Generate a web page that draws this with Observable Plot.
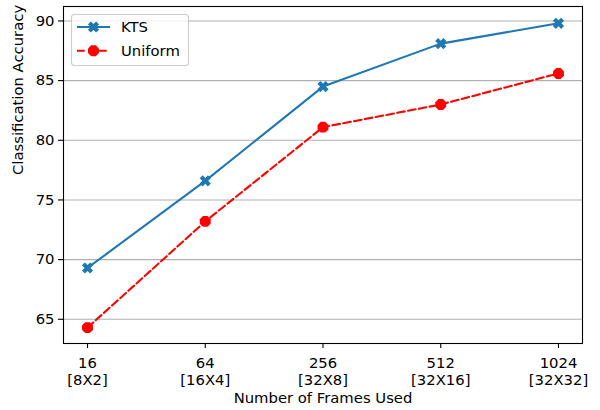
<!DOCTYPE html>
<html>
<head>
<meta charset="utf-8">
<script src="https://cdn.jsdelivr.net/npm/d3@7"></script>
<script src="https://cdn.jsdelivr.net/npm/@observablehq/plot@0.6"></script>
<style>
  html, body { margin: 0; padding: 0; background: #fff; }
  #wrap { position: relative; width: 600px; height: 410px; font-family: "DejaVu Sans", sans-serif; }
  #legend { position: absolute; left: 0; top: 0; }
</style>
</head>
<body>
<div id="wrap"></div>
<script>
const frames = ["16", "64", "256", "512", "1024"];
const grids = ["[8X2]", "[16X4]", "[32X8]", "[32X16]", "[32X32]"];
const kts = [69.3, 76.6, 84.5, 88.1, 89.8];
const uniform = [64.3, 73.2, 81.1, 83.0, 85.6];
const yTicks = [65, 70, 75, 80, 85, 90];
const seriesNames = ["KTS", "Uniform"];

const blue = "#1f77b4", red = "#ff0000";
const FONT = "DejaVu Sans";
const FS = 14.8;

// custom filled-X and octagon symbols
const xFilled = {
  draw(ctx, size) {
    const r = Math.sqrt(size / Math.PI);
    const w = 0.36 * r, L = r;
    const pts = [[w,L],[w,w],[L,w],[L,-w],[w,-w],[w,-L],[-w,-L],[-w,-w],[-L,-w],[-L,w],[-w,w],[-w,L]];
    const c = Math.SQRT1_2;
    pts.forEach(([x,y], i) => {
      const px = (x - y) * c, py = (x + y) * c;
      i ? ctx.lineTo(px, py) : ctx.moveTo(px, py);
    });
    ctx.closePath();
  }
};
const octagon = {
  draw(ctx, size) {
    const r = Math.sqrt(size / Math.PI);
    for (let i = 0; i < 8; i++) {
      const a = Math.PI / 8 + i * Math.PI / 4;
      const px = r * Math.cos(a), py = r * Math.sin(a);
      i ? ctx.lineTo(px, py) : ctx.moveTo(px, py);
    }
    ctx.closePath();
  }
};
const RX = 5.8, RO = 5.9;

const data = [];
frames.forEach((f, i) => {
  data.push({i, series: "KTS", value: kts[i]});
  data.push({i, series: "Uniform", value: uniform[i]});
});
const ktsData = data.filter(d => d.series === "KTS");
const uniData = data.filter(d => d.series === "Uniform");
const idx = frames.map((_, i) => i);

const chart = Plot.plot({
  width: 600,
  height: 410,
  marginLeft: 63,
  marginRight: 18,
  marginTop: 6,
  marginBottom: 67,
  style: { fontFamily: FONT, fontSize: FS + "px", color: "#000", background: "white", overflow: "visible" },
  x: { type: "linear", domain: [-0.204, 4.204] },
  y: { domain: [62.97, 91.21] },
  marks: [
    Plot.gridY(yTicks, { stroke: "#b0b0b0", strokeOpacity: 1, strokeWidth: 1.1 }),
    Plot.axisY(yTicks, { tickSize: 5, tickPadding: 4, label: null, fontSize: FS, stroke: "#000", strokeWidth: 1.1 }),
    Plot.axisX(idx, { tickSize: 5, tickPadding: 7, label: null, fontSize: FS, lineHeight: 1.16,
      tickFormat: i => frames[i] + "\n" + grids[i], stroke: "#000", strokeWidth: 1.1 }),
    Plot.text(["Classification Accuracy"], { frameAnchor: "left", rotate: -90, dx: -45, fontSize: FS, fill: "#000" }),
    Plot.text(["Number of Frames Used"], { frameAnchor: "bottom", lineAnchor: "middle", dy: 55, fontSize: FS, fill: "#000" }),
    Plot.line(ktsData, { x: "i", y: "value", stroke: blue, strokeWidth: 2.08 }),
    Plot.line(uniData, { x: "i", y: "value", stroke: red, strokeWidth: 2.08, strokeDasharray: "7.7,3.3" }),
    Plot.dot(ktsData, { x: "i", y: "value", symbol: () => xFilled, fill: blue, r: RX, stroke: "none" }),
    Plot.dot(uniData, { x: "i", y: "value", symbol: () => octagon, fill: red, r: RO, stroke: "none" }),
    Plot.frame({ stroke: "#000", strokeWidth: 1.1 })
  ]
});

const wrap = document.getElementById("wrap");
wrap.appendChild(chart);

// legend overlay
const leg = d3.select(wrap).append("svg").attr("id", "legend")
  .attr("width", 600).attr("height", 410)
  .style("font-family", FONT).style("font-size", FS + "px");
leg.append("rect").attr("x", 71.5).attr("y", 14.5).attr("width", 117).attr("height", 51)
  .attr("rx", 3).attr("fill", "rgba(255,255,255,0.8)").attr("stroke", "#cccccc").attr("stroke-width", 1.1);
const entries = [
  { name: seriesNames[0], color: blue, dash: null, sym: xFilled, r: RX, y: 27 },
  { name: seriesNames[1], color: red, dash: "7.7,3.3", sym: octagon, r: RO, y: 50.7 }
];
entries.forEach(e => {
  const l = leg.append("line").attr("x1", 77).attr("x2", 110).attr("y1", e.y).attr("y2", e.y)
    .attr("stroke", e.color).attr("stroke-width", 2.08);
  if (e.dash) l.attr("stroke-dasharray", e.dash);
  leg.append("path").attr("d", d3.symbol(e.sym, Math.PI * e.r * e.r)()).attr("fill", e.color)
    .attr("transform", `translate(93.5,${e.y})`);
  leg.append("text").attr("x", 121).attr("y", e.y).attr("dy", "0.35em").attr("fill", "#000").text(e.name);
});
</script>
</body>
</html>
